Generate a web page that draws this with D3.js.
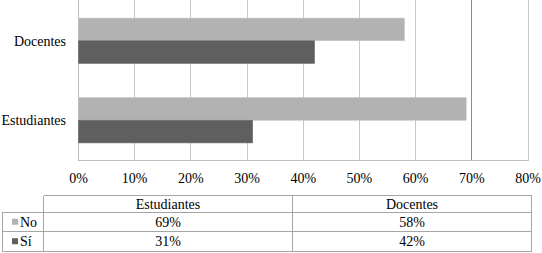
<!DOCTYPE html>
<html><head><meta charset="utf-8">
<script src="https://cdn.jsdelivr.net/npm/d3@7"></script>
<style>html,body{margin:0;padding:0;background:#fff;}svg{display:block;}</style>
</head><body>
<svg id="c" width="542" height="253"></svg>
<script>
const categories = ["Docentes", "Estudiantes"];
const seriesNames = ["No", "Sí"];
const noValues = [0.58, 0.69];
const siValues = [0.42, 0.31];
const tickValues = [0, 0.1, 0.2, 0.3, 0.4, 0.5, 0.6, 0.7, 0.8];
const tableColumns = ["Estudiantes", "Docentes"];
const tableNo = [0.69, 0.58];
const tableSi = [0.31, 0.42];
const colors = {"No": "#b2b2b2", "Sí": "#5f5f5f"};

const svg = d3.select("#c");
const fmt = d3.format(".0%");
const txt = sel => sel.style("font-family", "'Liberation Serif', 'Times New Roman', serif").style("font-size", "14px").attr("fill", "#000");

const x = d3.scaleLinear().domain([0, 0.8]).range([78.5, 528]);
const y = d3.scaleBand().domain(categories).range([1, 160]).paddingInner(0.43).paddingOuter(0.215);
const ys = d3.scaleBand().domain(seriesNames).range([0, y.bandwidth()]);

// gridlines
svg.append("g").selectAll("line").data(tickValues).join("line")
  .attr("x1", d => x(d)).attr("x2", d => x(d))
  .attr("y1", 0).attr("y2", 161)
  .attr("stroke", d => Math.abs(d - 0.7) < 1e-9 ? "#8c8c8c" : (d === 0 ? "#bdbdbd" : "#c8c8c8"))
  .attr("stroke-width", 1)
  .attr("shape-rendering", "crispEdges");

svg.append("line").attr("x1", x(0)).attr("x2", x(0.8)).attr("y1", 160.5).attr("y2", 160.5)
  .attr("stroke", "#bdbdbd").attr("shape-rendering", "crispEdges");

// bars
const rows = categories.map((c, i) => ({cat: c, vals: [{s: "No", v: noValues[i]}, {s: "Sí", v: siValues[i]}]}));
const g = svg.append("g").selectAll("g").data(rows).join("g")
  .attr("transform", d => `translate(0,${y(d.cat)})`);
g.selectAll("rect").data(d => d.vals).join("rect")
  .attr("x", x(0)).attr("y", d => ys(d.s))
  .attr("width", d => x(d.v) - x(0)).attr("height", ys.bandwidth())
  .attr("fill", d => colors[d.s])
  .attr("stroke", d => d.s === "No" ? "#c6c6c6" : "#6a6a6a").attr("stroke-width", 0.6);

// category labels
svg.append("g").selectAll("text").data(categories).join("text")
  .attr("x", 66).attr("y", d => y(d) + y.bandwidth() / 2)
  .attr("dy", "0.35em").attr("text-anchor", "end")
  .call(txt)
  .text(d => d);

// tick labels
svg.append("g").selectAll("text").data(tickValues).join("text")
  .attr("x", d => x(d)).attr("y", 178)
  .attr("dy", "0.35em").attr("text-anchor", "middle")
  .call(txt)
  .text(d => fmt(d));

// data table
const tx0 = 2, tx1 = 43.5, tx2 = 292.5, tx3 = 531.5;
const ty = [195.5, 212, 231.5, 251];
const border = "#a6a6a6";
const tbl = svg.append("g").attr("stroke", border).attr("stroke-width", 1).attr("shape-rendering", "crispEdges");
tbl.append("line").attr("x1", tx1).attr("x2", tx3).attr("y1", ty[0]).attr("y2", ty[0]);
tbl.append("line").attr("x1", tx1).attr("x2", tx1).attr("y1", ty[0]).attr("y2", ty[3]);
tbl.append("line").attr("x1", tx0).attr("x2", tx3).attr("y1", ty[1]).attr("y2", ty[1]);
tbl.append("line").attr("x1", tx0).attr("x2", tx3).attr("y1", ty[2]).attr("y2", ty[2]);
tbl.append("line").attr("x1", tx0).attr("x2", tx3).attr("y1", ty[3]).attr("y2", ty[3]);
tbl.append("line").attr("x1", tx0).attr("x2", tx0).attr("y1", ty[1]).attr("y2", ty[3]);
tbl.append("line").attr("x1", tx2).attr("x2", tx2).attr("y1", ty[0]).attr("y2", ty[3]);
tbl.append("line").attr("x1", tx3).attr("x2", tx3).attr("y1", ty[0]).attr("y2", ty[3]);

const colX = [(tx1 + tx2) / 2, (tx2 + tx3) / 2];
svg.append("g").selectAll("text").data(tableColumns).join("text")
  .attr("x", (d, i) => colX[i]).attr("y", (ty[0] + ty[1]) / 2)
  .attr("dy", "0.35em").attr("text-anchor", "middle")
  .call(txt)
  .text(d => d);

const tableRows = [{s: "No", vals: tableNo}, {s: "Sí", vals: tableSi}];
tableRows.forEach((r, ri) => {
  const cy = (ty[ri + 1] + ty[ri + 2]) / 2;
  svg.append("rect").attr("x", 12).attr("y", cy - 3).attr("width", 6).attr("height", 6).attr("fill", colors[r.s]);
  svg.append("text").attr("x", 20).attr("y", cy).attr("dy", "0.35em").call(txt).text(r.s);
  svg.append("g").selectAll("text").data(r.vals).join("text")
    .attr("x", (d, i) => colX[i]).attr("y", cy).attr("dy", "0.35em").attr("text-anchor", "middle")
    .call(txt)
    .text(d => fmt(d));
});
</script>
</body></html>
